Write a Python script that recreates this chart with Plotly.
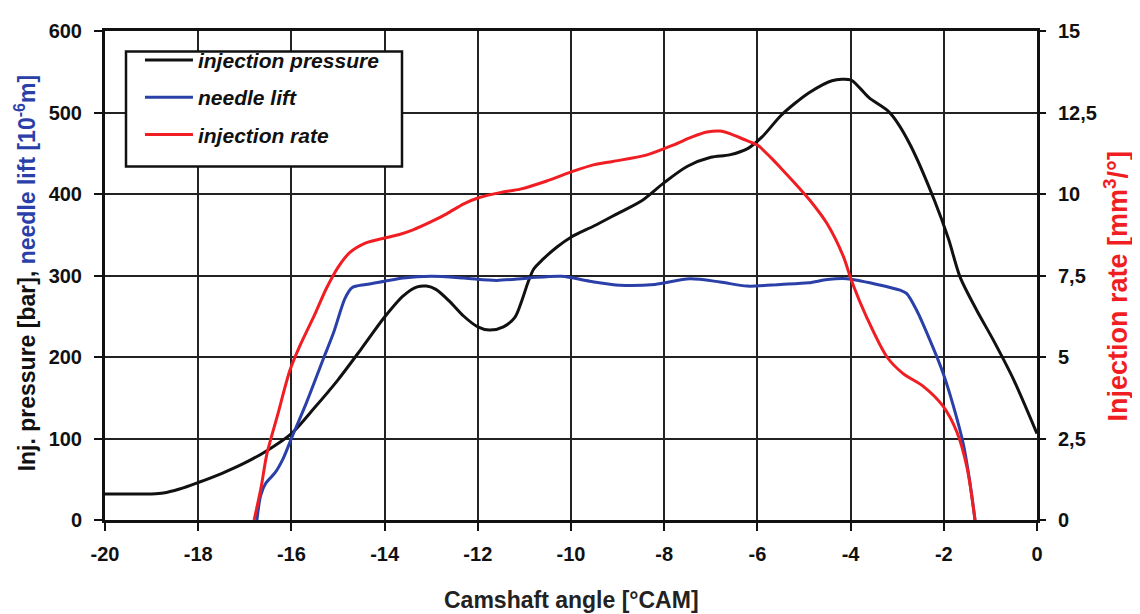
import plotly.graph_objects as go

# ---- data ----
p_x = [-20, -19.5, -19.0, -18.75, -18.4, -18.0, -17.5, -17.0, -16.5, -16.0, -15.5, -15.0, -14.5,
       -14.0, -13.6, -13.3, -13.1, -12.9, -12.6, -12.3, -12.0, -11.75, -11.45, -11.2, -11.05,
       -10.92, -10.8, -10.6, -10.3, -10.0, -9.5, -9.0, -8.5, -8.0, -7.5, -7.0, -6.6, -6.2, -5.9,
       -5.5, -5.2, -4.9, -4.4, -4.0, -3.8, -3.6, -3.2, -3.0, -2.7, -2.2, -1.9, -1.65, -1.3,
       -0.94, -0.5, 0]
p_y = [32, 32, 32, 33, 38, 46, 57, 70, 86, 106, 138, 172, 210,
       249, 275, 286, 287, 283, 268, 250, 237, 233, 237, 249, 270,
       292, 308, 320, 335, 347, 361, 376, 391, 414, 434, 445, 448, 456, 470,
       496, 511, 524, 539, 540, 530, 518, 502, 488, 458, 392, 345, 298, 258,
       221, 172, 106]

n_x = [-16.74, -16.66, -16.55, -16.35, -16.18, -16.0, -15.67, -15.32, -15.1, -14.85, -14.7, -14.4,
       -14.0, -13.6, -13.0, -12.3, -11.6, -10.9, -10.2, -9.6, -8.95, -8.2, -7.45, -6.8, -6.22,
       -5.5, -4.9, -4.5, -4.08, -3.43, -2.94, -2.8, -2.58, -2.3, -2.02, -1.8, -1.58, -1.45, -1.33]
n_y = [0, 30, 45, 58, 75, 100, 145, 197, 229, 272, 285, 289,
       293, 297, 299, 297, 294, 297, 299, 293, 288, 289, 296, 292, 287,
       289, 291, 295, 296, 289, 282, 278, 257, 221, 181, 141, 93, 50, 0]

r_x = [-16.8, -16.65, -16.53, -16.3, -16.03, -15.8, -15.5, -15.25, -15.0, -14.75, -14.4,
       -14.0, -13.7, -13.39, -13.0, -12.66, -12.3, -11.95, -11.5, -11.09, -10.52, -9.95, -9.5,
       -9.1, -8.37, -7.81, -7.4, -7.08, -6.8, -6.59, -6.25, -6.0, -5.7, -5.5, -5.24, -4.87, -4.51,
       -4.16, -3.97, -3.65, -3.22, -2.88, -2.44, -2.02, -1.72, -1.5, -1.33]
r_y = [0, 1.0, 2.0, 3.2, 4.6, 5.4, 6.3, 7.1, 7.75, 8.2, 8.5,
       8.65, 8.75, 8.9, 9.15, 9.4, 9.7, 9.9, 10.05, 10.15, 10.4, 10.7, 10.9,
       11.0, 11.2, 11.5, 11.75, 11.9, 11.93, 11.85, 11.65, 11.5, 11.1, 10.8, 10.4, 9.8, 9.1,
       8.1, 7.3, 6.2, 5.0, 4.5, 4.1, 3.5, 2.7, 1.6, 0]

x_ticks = [-20, -18, -16, -14, -12, -10, -8, -6, -4, -2, 0]
x_ticklabels = ["-20", "-18", "-16", "-14", "-12", "-10", "-8", "-6", "-4", "-2", "0"]
y_ticks = [0, 100, 200, 300, 400, 500, 600]
y2_ticks = [0, 2.5, 5, 7.5, 10, 12.5, 15]
y2_ticklabels = ["0", "2,5", "5", "7,5", "10", "12,5", "15"]

names = ["injection pressure", "needle lift", "injection rate"]

BLACK = "#111111"
BLUE = "#2a40a8"
RED = "#f01e23"
FONT = "Liberation Sans"

fig = go.Figure()
fig.add_trace(go.Scatter(x=p_x, y=p_y, mode="lines", name=names[0], legendgroup="a",
                         line=dict(color=BLACK, width=3, shape="spline", smoothing=0.8)))
fig.add_trace(go.Scatter(x=n_x, y=n_y, mode="lines", name=names[1], legendgroup="b",
                         line=dict(color=BLUE, width=3, shape="spline", smoothing=0.8)))
fig.add_trace(go.Scatter(x=r_x, y=r_y, mode="lines", name=names[2], legendgroup="c", yaxis="y2",
                         line=dict(color=RED, width=3, shape="spline", smoothing=0.8)))

tickfont = dict(family=FONT, size=20, color="#111111", weight="bold")

# plot area in page pixels: x 105..1037, y 22..520 (page has an 8px body margin)
fig.update_layout(
    width=1132, height=606,
    margin=dict(l=97, r=103, t=14, b=94),
    paper_bgcolor="white", plot_bgcolor="white",
    showlegend=True,
    legend=dict(x=0.0375, y=0.982, xanchor="left", yanchor="top",
                bgcolor="rgba(0,0,0,0)", borderwidth=0,
                font=dict(family=FONT, size=21, color="#111111", weight="bold", style="italic"),
                tracegroupgap=7, itemwidth=48),
    xaxis=dict(range=[-20, 0], tickvals=x_ticks, ticktext=x_ticklabels,
               showgrid=True, gridcolor="#222222", gridwidth=1.5,
               showline=True, linecolor="#111111", linewidth=3, mirror=True,
               ticks="outside", ticklen=8, tickwidth=2, tickcolor="#111111",
               tickfont=tickfont, ticklabelstandoff=6, zeroline=False),
    yaxis=dict(range=[0, 600], tickvals=y_ticks,
               showgrid=True, gridcolor="#222222", gridwidth=1.5,
               showline=True, linecolor="#111111", linewidth=3, mirror=True,
               ticks="outside", ticklen=8, tickwidth=2, tickcolor="#111111",
               tickfont=tickfont, ticklabelstandoff=8, zeroline=False),
    yaxis2=dict(range=[0, 15], tickvals=y2_ticks, ticktext=y2_ticklabels,
                overlaying="y", side="right", showgrid=False,
                showline=False, ticks="outside", ticklen=8, tickwidth=2, tickcolor="#111111",
                tickfont=tickfont, ticklabelstandoff=8, zeroline=False),
)

# legend frame
fig.add_shape(type="rect", xref="paper", yref="paper",
              x0=(126 - 105) / 932, x1=(402 - 105) / 932,
              y0=(520 - 160) / 498, y1=(520 - 43) / 498,
              line=dict(color="#111111", width=2.5), fillcolor="white", layer="above")

fig.add_annotation(
    text="Camshaft angle [°CAM]", xref="paper", yref="paper", x=0.5, y=-0.164,
    xanchor="center", yanchor="middle", showarrow=False,
    font=dict(family=FONT, size=23, color="#222222", weight="bold"))
fig.add_annotation(
    text="Inj. pressure [bar], <span style='color:%s'>needle lift [10<sup>-6</sup>m]</span>" % BLUE,
    xref="paper", yref="paper", x=-0.0855, y=0.505, textangle=-90,
    xanchor="center", yanchor="middle", showarrow=False,
    font=dict(family=FONT, size=23, color="#111111", weight="bold"))
fig.add_annotation(
    text="Injection rate [mm<sup>3</sup>/°]",
    xref="paper", yref="paper", x=1.085, y=0.478, textangle=-90,
    xanchor="center", yanchor="middle", showarrow=False,
    font=dict(family=FONT, size=27, color=RED, weight="bold"))

fig.write_html("out.html")
